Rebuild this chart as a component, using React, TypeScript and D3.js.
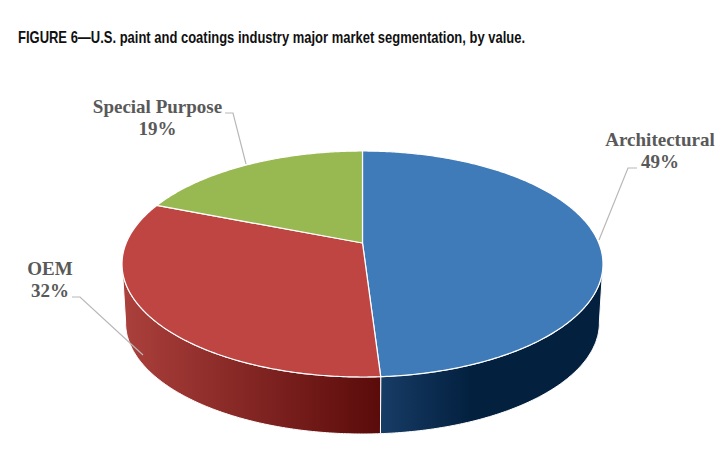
import * as d3 from 'd3';

const categories = ['Architectural', 'OEM', 'Special Purpose'];
const shares = [49, 32, 19];

const topColors = ['#3f7ab9', '#be4542', '#98b851'];
const wallColors = [
  ['#173c66', '#03203f'],
  ['#ab403c', '#5a0b0a'],
  ['#98b851', '#98b851'],
];

const width = 726;
const height = 452;
const title = 'FIGURE 6—U.S. paint and coatings industry major market segmentation, by value.';

// perspective of the pie disc, apex sits above the middle of the ellipse
const apexX = 362.5;
const apexY = 243;
const radiusX = 236.3;
const radiusY = 109.1;
const persp = 0.1858;
const floorDrop = 59;
const floorScale = 0.985;

const labelLayout = [
  { x: 660, y: 146, leader: [[637, 168], [628, 168], [599, 240]] },
  { x: 50, y: 275, leader: [[72, 297], [80, 297], [143, 355]] },
  { x: 157.5, y: 113, leader: [[225, 113], [233, 113], [246, 164]] },
];

const project = (a: number, floor = false): [number, number] => {
  const w = 1 + persp * Math.cos(a);
  const x = (radiusX * Math.sin(a)) / w;
  const y = (-radiusY * Math.cos(a)) / w;
  return floor
    ? [apexX + x * floorScale, apexY + floorDrop + y * floorScale]
    : [apexX + x, apexY + y];
};

const sampleAngles = (a0: number, a1: number) => {
  const n = Math.max(2, Math.ceil(Math.abs(a1 - a0) / 0.01));
  return d3.range(n + 1).map((i) => a0 + ((a1 - a0) * i) / n);
};

const line = d3.line();

// only the part of the side facing the viewer is drawn
const wallFrom = Math.PI / 2 + 0.18;
const wallTo = (Math.PI * 3) / 2 - 0.18;

export default function App() {
  const arcs = d3.pie<number>().sort(null)(shares);

  return (
    <svg
      width={width}
      height={height}
      style={{ position: 'absolute', left: 0, top: 0, background: '#fff' }}
    >
      <defs>
        <linearGradient id="wall0" gradientUnits="userSpaceOnUse" x1={381} x2={470} y1={0} y2={0}>
          <stop offset="0" stopColor={wallColors[0][0]} />
          <stop offset="1" stopColor={wallColors[0][1]} />
        </linearGradient>
        <linearGradient id="wall1" gradientUnits="userSpaceOnUse" x1={124} x2={380} y1={0} y2={0}>
          <stop offset="0" stopColor={wallColors[1][0]} />
          <stop offset="1" stopColor={wallColors[1][1]} />
        </linearGradient>
      </defs>

      <text
        x={18}
        y={43}
        textLength={507}
        lengthAdjust="spacingAndGlyphs"
        fontFamily="'Liberation Sans Narrow', 'Liberation Sans', sans-serif"
        fontWeight="bold"
        fontSize={16.5}
        fill="#111"
      >
        {title}
      </text>

      {arcs.map((d, i) => {
        const a0 = Math.max(d.startAngle, wallFrom);
        const a1 = Math.min(d.endAngle, wallTo);
        if (a1 <= a0) return null;
        const angles = sampleAngles(a0, a1);
        const outline = [
          ...angles.map((a) => project(a)),
          ...angles.slice().reverse().map((a) => project(a, true)),
        ];
        return (
          <path
            key={categories[i]}
            d={line(outline)! + 'Z'}
            fill={`url(#wall${i})`}
            stroke="#fff"
            strokeWidth={1}
          />
        );
      })}

      {arcs.map((d, i) => {
        const rim = sampleAngles(d.startAngle, d.endAngle).map((a) => project(a));
        return (
          <path
            key={categories[i]}
            d={line([[apexX, apexY], ...rim])! + 'Z'}
            fill={topColors[i]}
            stroke="#fff"
            strokeWidth={1.2}
            strokeLinejoin="round"
          />
        );
      })}

      {labelLayout.map((l, i) => (
        <g key={categories[i]}>
          <path
            d={line(l.leader as [number, number][])!}
            fill="none"
            stroke="#b8b8b8"
            strokeWidth={1.2}
          />
          <text
            x={l.x}
            y={l.y}
            textAnchor="middle"
            fontFamily="'Liberation Serif', serif"
            fontWeight="bold"
            fontSize={19}
            fill="#595959"
          >
            <tspan x={l.x}>{categories[i]}</tspan>
            <tspan x={l.x} dy={22}>{`${shares[i]}%`}</tspan>
          </text>
        </g>
      ))}
    </svg>
  );
}
